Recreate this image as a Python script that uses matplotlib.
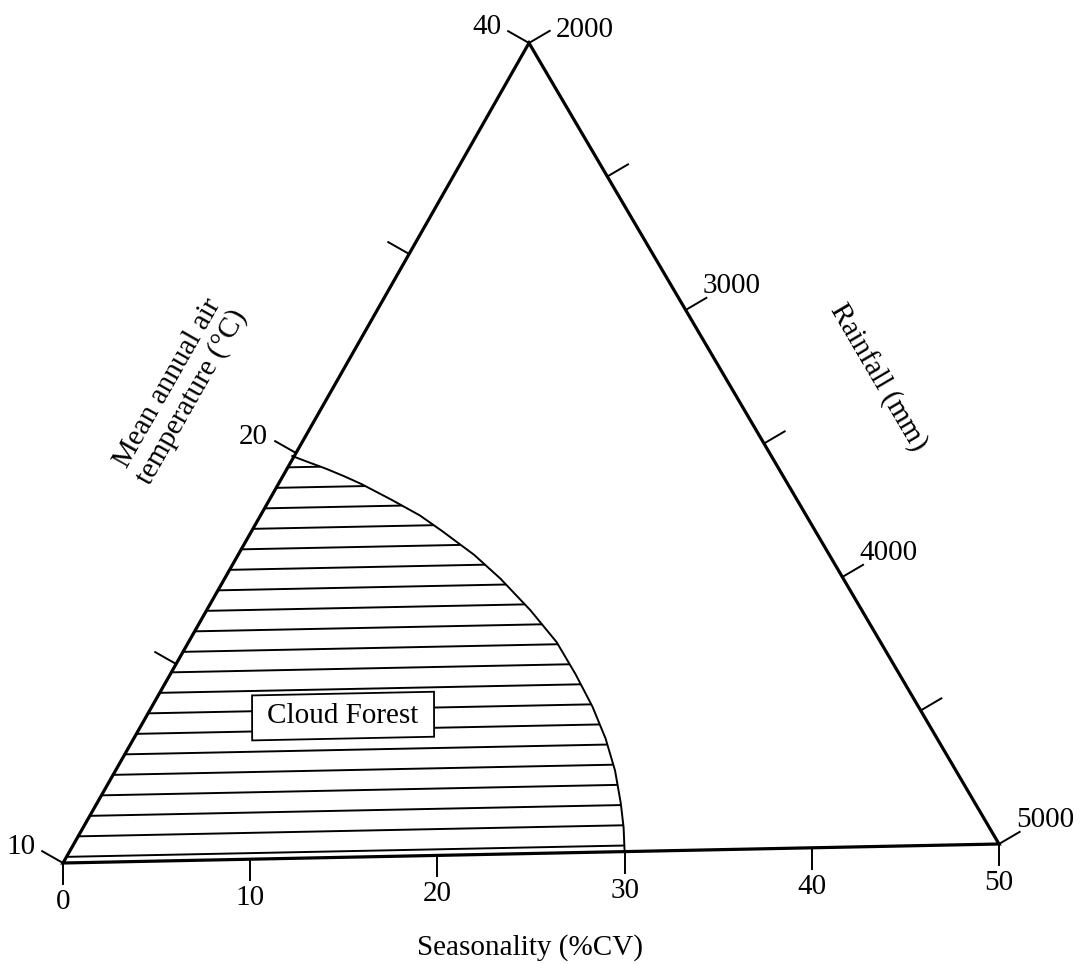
import numpy as np
import matplotlib.pyplot as plt
from matplotlib.transforms import Affine2D
from matplotlib.patches import Polygon, Rectangle

plt.rcParams['font.family'] = ['Liberation Serif', 'DejaVu Serif']
FS = 21

# axes of the diagram
season_ticks = [0, 10, 20, 30, 40, 50]
season_labels = ['0', '10', '20', '30', '40', '50']
temp_min, temp_max = 10, 40          # log-spaced along the left edge
temp_ticks = [10, 14, 20, 28, 40]
temp_labels = ['10', '', '20', '', '40']
rain_min, rain_max = 2000, 5000
rain_ticks = [2000, 2500, 3000, 3500, 4000, 4500, 5000]
rain_labels = ['2000', '', '3000', '', '4000', '', '5000']

# cloud forest boundary (seasonality, temperature)
cf_season = [12.3, 13.0, 14.1, 15.1, 16.0, 17.6, 19.1, 20.3, 22.0, 23.4,
             25.0, 26.4, 27.4, 28.3, 29.0, 29.5, 29.8, 29.95, 30.0]
cf_temp = [19.9, 19.72, 19.45, 19.18, 18.92, 18.4, 17.9, 17.41, 16.7, 16.02,
           15.16, 14.34, 13.57, 12.83, 12.14, 11.49, 10.87, 10.42, 10.0]


def temp_to_v(t):
    return np.log(np.asarray(t) / temp_min) / np.log(temp_max / temp_min)


fig = plt.figure(figsize=(10.8, 9.65), dpi=100)
ax = fig.add_axes([0, 0, 1, 1])
ax.set_xlim(0, 1080)
ax.set_ylim(965, 0)
ax.axis('off')

# (seasonality, height fraction) -> picture pixels; the scan is a bit tilted
geom = Affine2D.from_values(18.72, -0.38, -2.0, -810.5, 63, 863)
tri = geom + ax.transData

ax.add_patch(Polygon([(0, 0), (50, 0), (25, 1)], closed=True, fill=False,
                     lw=2.3, ec='black', transform=tri, zorder=5))

# boundary curve
cf_v = temp_to_v(cf_temp)
ax.plot(cf_season, cf_v, color='black', lw=1.4, transform=tri)

# horizontal hatching inside the cloud forest region
hatch_v = np.arange(0.0075, 0.49, 0.025)
left_s = 25 * hatch_v
right_s = np.interp(hatch_v, cf_v[::-1], np.array(cf_season)[::-1])
ax.hlines(hatch_v, left_s, right_s, color='black', lw=1.4, transform=tri)

# label box
ax.add_patch(Rectangle((10.12, 0.1465), 9.72, 0.0555, fc='white', ec='black',
                       lw=1.3, transform=tri, zorder=6))
ax.text(14.98, 0.1743, 'Cloud Forest', transform=tri, ha='center',
        va='center', fontsize=FS, zorder=7)

TL = 24
lw_tick = 1.4
# bottom: seasonality
for s, lab in zip(season_ticks, season_labels):
    x, y = geom.transform((s, 0))
    ax.plot([x, x], [y, y + 21], color='black', lw=lw_tick)
    ax.text(x, y + 26, lab, ha='center', va='top', fontsize=FS)

# left: temperature
left_dir = geom.transform((25, 1)) - geom.transform((0, 0))
left_dir = left_dir / np.hypot(*left_dir)
left_n = np.array([left_dir[1], -left_dir[0]])
for t, lab in zip(temp_ticks, temp_labels):
    v = temp_to_v(t)
    p = geom.transform((25 * v, v))
    e = p + TL * left_n
    ax.plot([p[0], e[0]], [p[1], e[1]], color='black', lw=lw_tick)
    if lab:
        ax.text(e[0] - 7, e[1] + 3, lab, ha='right', va='baseline', fontsize=FS)

# right: rainfall
right_dir = geom.transform((50, 0)) - geom.transform((25, 1))
right_dir = right_dir / np.hypot(*right_dir)
right_n = np.array([-right_dir[1], right_dir[0]])
if right_n[0] < 0:
    right_n = -right_n
for r, lab in zip(rain_ticks, rain_labels):
    f = (r - rain_min) / (rain_max - rain_min)
    p = geom.transform((25 + 25 * f, 1 - f))
    e = p + TL * right_n
    ax.plot([p[0], e[0]], [p[1], e[1]], color='black', lw=lw_tick)
    if lab:
        dx, dy = (6, 6) if r == rain_min else (-4, -5)
        ax.text(e[0] + dx, e[1] + dy, lab, ha='left', va='baseline', fontsize=FS)

# axis titles
ang_l = np.degrees(np.arctan2(-left_dir[1], left_dir[0]))
ang_r = np.degrees(np.arctan2(-right_dir[1], right_dir[0]))
ax.text(530, 948, 'Seasonality (%CV)', ha='center', va='center', fontsize=FS)
ax.text(180, 390, 'Mean annual air\ntemperature (°C)', ha='center',
        va='center', rotation=ang_l, rotation_mode='anchor',
        multialignment='center', fontsize=FS, linespacing=1.1)
ax.text(878, 378, 'Rainfall (mm)', ha='center', va='center', rotation=ang_r,
        rotation_mode='anchor', fontsize=FS)

fig.savefig('out.png', dpi=100, facecolor='white')
